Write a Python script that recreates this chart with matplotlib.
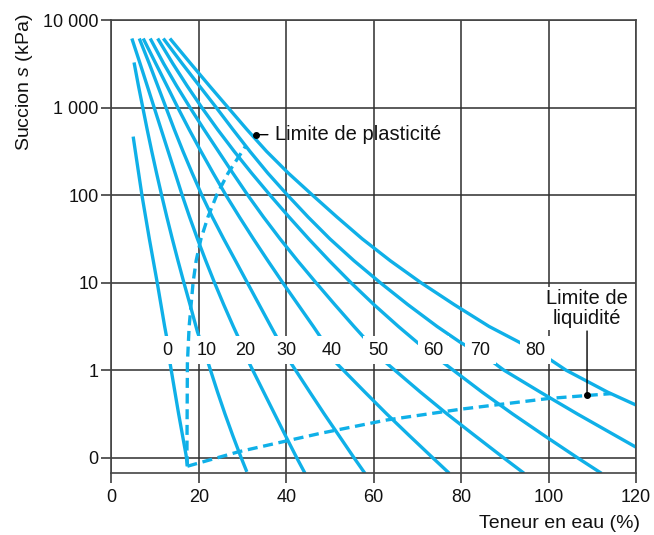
import matplotlib
matplotlib.use("Agg")
import matplotlib.pyplot as plt
from matplotlib.ticker import NullLocator

plt.rcParams['font.family'] = ['Liberation Sans', 'DejaVu Sans']
plt.rcParams['mathtext.fontset'] = 'custom'
plt.rcParams['mathtext.it'] = 'Liberation Sans:italic'
plt.rcParams['mathtext.rm'] = 'Liberation Sans'

# courbes de succion : teneur en eau w (%) et succion s (kPa)
curve_labels = ['0', '10', '20', '30', '40', '50', '60', '70', '80']

w_0 = [5.0, 5.5, 7.0, 8.7, 10.5, 12.2, 12.7, 13.4, 15.4, 17.1, 17.4]
s_0 = [466, 316, 100, 31.6, 10, 3.16, 2.32, 1.23, 0.316, 0.107, 0.080]

w_10 = [5.2, 6.2, 7.2, 8.2, 9.25, 10.35, 11.5, 12.7, 13.95, 15.25, 16.6, 18.0,
        19.7, 22.2, 24.3, 26.0, 27.8, 29.7, 31.0]
s_10 = [3275, 1780, 1000, 562, 316, 178, 100, 56.2, 31.6, 17.8, 10, 5.62,
        2.74, 1.19, 0.562, 0.316, 0.178, 0.1, 0.069]

# les courbes 20 à 80 partent toutes de s = 6150 kPa
s_top = [6150, 3160, 1780, 1000, 562, 316, 178, 100, 56.2, 31.6, 17.8, 10, 5.62, 3.16]
s_low = [1.245, 0.562, 0.316, 0.178, 0.1, 0.0664]

w_20 = [4.7, 6.6, 8.2, 9.8, 11.4, 13.0, 14.6, 16.2, 17.9, 19.7, 21.6, 23.6, 25.7, 27.9,
        29.0, 31.4, 34.85, 37.35, 39.85, 42.4, 44.3]
s_20 = s_top + [2.4] + s_low

w_30 = [6.4, 8.7, 10.6, 12.5, 14.4, 16.4, 18.5, 20.7, 23.1, 25.7, 28.4, 31.1, 33.8, 36.5,
        37.8, 40.9, 45.4, 48.7, 52.1, 55.5, 58.0]
s_30 = s_top + [2.4] + s_low

w_40 = [7.3, 10.2, 12.7, 15.2, 17.8, 20.5, 23.3, 26.2, 29.3, 32.5, 35.8, 39.2, 42.7, 46.2,
        48.6, 51.2, 58.0, 63.0, 68.2, 73.5, 77.3]
s_40 = s_top + [2.1] + s_low

w_50 = [8.9, 12.0, 14.9, 18.0, 21.2, 24.5, 27.8, 31.2, 34.8, 38.6, 42.6, 46.8, 51.1, 55.5,
        58.0, 62.6, 70.7, 76.8, 83.2, 89.7, 94.4]
s_50 = s_top + [2.3] + s_low

w_60 = [10.6, 14.1, 17.3, 20.7, 24.3, 28.1, 32.1, 36.3, 40.65, 45.15, 49.85, 54.8, 60.05, 65.65,
        70.2, 75.2, 84.8, 91.8, 99.1, 106.6, 112.1]
s_60 = s_top + [2.03, 1.3, 0.562, 0.316, 0.178, 0.1, 0.0664]

w_70 = [11.9, 16.25, 20.1, 24.0, 27.8, 31.7, 35.8, 40.3, 45.0, 50.0, 55.5, 61.5, 67.8, 74.5,
        79.7, 86.7, 89.8, 98.1, 106.6, 115.4, 120.0]
s_70 = s_top + [2.1, 1.3, 1.0, 0.562, 0.316, 0.178, 0.132]

w_80 = [13.4, 18.2, 22.4, 26.7, 31.0, 35.5, 40.5, 46.0, 51.6, 57.4, 63.8, 70.8, 78.4, 86.4,
        93.2, 100.0, 104.0, 113.5, 120.0]
s_80 = s_top + [2.1, 1.36, 1.0, 0.562, 0.4]

curve_w = [w_0, w_10, w_20, w_30, w_40, w_50, w_60, w_70, w_80]
curve_s = [s_0, s_10, s_20, s_30, s_40, s_50, s_60, s_70, s_80]

# position des étiquettes de courbes
label_w = [12.8, 21.8, 30.6, 40.0, 50.4, 61.1, 73.7, 84.4, 97.0]
label_s = 1.69

# limite de plasticité et limite de liquidité (tiretés)
plast_w = [17.4, 17.3, 17.4, 17.8, 18.7, 19.4, 20.5, 22.1, 24.1, 26.7, 30.8]
plast_s = [0.080, 0.12, 1.2, 3.16, 10, 17.8, 31.6, 56.2, 100, 178, 368]
liq_w = [17.4, 29.1, 40.9, 47.8, 63.0, 80.2, 100.0, 114.3]
liq_s = [0.080, 0.117, 0.159, 0.19, 0.27, 0.36, 0.475, 0.54]

yticks = [0.1, 1, 10, 100, 1000, 10000]
ytick_labels = ['0', '1', '10', '100', '1 000', '10 000']
xticks = [0, 20, 40, 60, 80, 100, 120]

BLUE = '#0fb0e8'
GRID = '#2e2e2e'
TXT = '#111111'

fig = plt.figure(figsize=(6.54, 5.35), dpi=100)
ax = fig.add_axes([0.1702, 0.1153, 0.8023, 0.8473])

for w, s in zip(curve_w, curve_s):
    ax.plot(w, s, color=BLUE, lw=2.4, solid_capstyle='butt',
            solid_joinstyle='round', zorder=2)

ax.plot(plast_w, plast_s, color=BLUE, lw=2.4, ls=(0, (3, 1.7)), zorder=2)
ax.plot(liq_w, liq_s, color=BLUE, lw=2.4, ls=(0, (3, 1.7)), zorder=2)

for lab, xw in zip(curve_labels, label_w):
    ax.text(xw, label_s, lab, ha='center', va='center', fontsize=13,
            color=TXT, zorder=4,
            bbox=dict(boxstyle='square,pad=0.3', fc='white', ec='none'))

# annotations
ax.plot([33.1], [490], 'o', color='black', ms=4, zorder=5)
ax.annotate('Limite de plasticité', xy=(33.1, 490), xytext=(37.4, 490),
            ha='left', va='center', fontsize=14.5, color=TXT,
            arrowprops=dict(arrowstyle='-', color='black', lw=1,
                            shrinkA=3, shrinkB=0), zorder=5)

ax.plot([108.8], [0.519], 'o', color='black', ms=4, zorder=5)
ax.annotate('Limite de\nliquidité', xy=(108.8, 0.519), xytext=(108.8, 5.1),
            ha='center', va='center', fontsize=14.5, color=TXT,
            linespacing=1.05,
            bbox=dict(boxstyle='square,pad=0.1', fc='white', ec='none'),
            arrowprops=dict(arrowstyle='-', color='black', lw=1,
                            shrinkA=1, shrinkB=0), zorder=5)

ax.set_yscale('log')
ax.set_xlim(0, 120)
ax.set_ylim(0.0664, 10000)
ax.set_yticks(yticks, labels=ytick_labels)
ax.yaxis.set_minor_locator(NullLocator())
ax.set_xticks(xticks)

ax.grid(True, which='major', color=GRID, lw=1.1)
for sp in ax.spines.values():
    sp.set_color('#444444')
    sp.set_linewidth(1.2)
ax.tick_params(axis='both', direction='out', length=7, width=1.1,
               color=GRID, labelsize=13, labelcolor=TXT)
ax.tick_params(axis='y', pad=2)
ax.tick_params(axis='x', pad=4)

fig.text(0.0382, 0.8467, 'Succion $s$ (kPa)', rotation=90, ha='center',
         va='center', fontsize=14, color=TXT)
fig.text(0.9786, 0.0224, 'Teneur en eau (%)', ha='right', va='center',
         fontsize=14, color=TXT)

fig.savefig('out.png', dpi=100)
